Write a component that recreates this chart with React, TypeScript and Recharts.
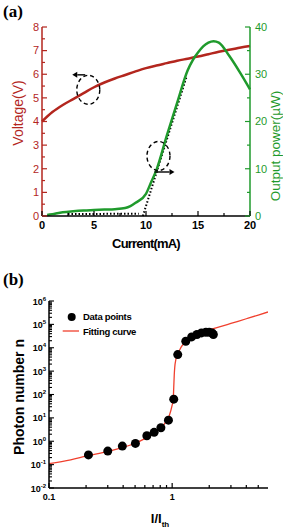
import React from "react";
import { ComposedChart, Line, Scatter, XAxis, YAxis, ReferenceDot } from "recharts";

const FONT = "'Liberation Sans', Arial, sans-serif";
const RED = "#b3261e";
const GREEN = "#1f9a2c";

// (a) voltage / output power vs current
const currentV = [0, 1, 2, 3, 4, 5, 6, 7, 8, 9, 10, 11, 12, 13, 14, 15, 16, 17, 18, 19, 20];
const voltage = [4.0, 4.4, 4.7, 4.95, 5.2, 5.45, 5.65, 5.82, 5.97, 6.12, 6.26, 6.37, 6.47, 6.57, 6.66, 6.75, 6.85, 6.95, 7.04, 7.12, 7.2];
const currentP = [0.5, 1, 2, 3, 4, 5, 6, 7, 8, 8.5, 9, 10, 10.5, 11, 12, 13, 14, 14.5, 15, 15.5, 16, 16.5, 17, 18, 19, 20];
const power = [0.2, 0.4, 0.8, 1.0, 1.15, 1.25, 1.35, 1.45, 1.7, 2.1, 2.8, 4.7, 7.2, 9.7, 17, 24, 30.8, 33, 34.6, 35.9, 36.7, 37, 36.7, 33.9, 30.5, 26.8];
const subFitI = [2.5, 9.3];
const subFitP = [0.4, 0.5];
const lasFitI = [9.7, 13.9];
const lasFitP = [0, 29.5];
const currentTicks = [0, 2.5, 5, 7.5, 10, 12.5, 15, 17.5, 20];
const currentMajor = [0, 5, 10, 15, 20];
const voltTicks = [0, 0.5, 1, 1.5, 2, 2.5, 3, 3.5, 4, 4.5, 5, 5.5, 6, 6.5, 7, 7.5, 8];
const voltMajor = [0, 1, 2, 3, 4, 5, 6, 7, 8];
const powerTicks = [0, 5, 10, 15, 20, 25, 30, 35, 40];
const powerMajor = [0, 10, 20, 30, 40];

// (b) photon number vs I/Ith
const ratioPts = [0.209, 0.3, 0.394, 0.503, 0.623, 0.714, 0.81, 0.933, 1.03, 1.11, 1.29, 1.44, 1.59, 1.73, 1.88, 2.0, 2.11, 2.16];
const photonPts = [0.26, 0.38, 0.62, 0.81, 1.72, 2.4, 3.8, 8.0, 63, 5100, 19000, 29000, 37000, 43000, 46000, 46000, 43000, 37000];
const ratioFit = [0.1, 0.15, 0.2, 0.3, 0.4, 0.5, 0.6, 0.7, 0.8, 0.9, 0.95, 1.0, 1.02, 1.03, 1.04, 1.05, 1.07, 1.1, 1.15, 1.2, 1.3, 1.5, 1.75, 2, 2.5, 3, 4, 5, 6];
const photonFit = [0.11, 0.16, 0.23, 0.37, 0.55, 0.82, 1.3, 2.1, 3.6, 7.5, 13, 35, 60, 200, 700, 1500, 3000, 5000, 8000, 12000, 18000, 30000, 43000, 58000, 82000, 110000, 174000, 250000, 340000];
const ratioTicks = [0.1, 0.2, 0.3, 0.4, 0.5, 0.6, 0.7, 0.8, 0.9, 1, 2, 3, 4, 5];
const ratioMajor = [0.1, 1];
const photonMajor = [-2, -1, 0, 1, 2, 3, 4, 5, 6];

const photonTicks: number[] = [];
photonMajor.forEach((e) => {
    for (let m = 1; m <= 9; m++) {
        if (e === 6 && m > 1) break;
        photonTicks.push(Number((m * Math.pow(10, e)).toPrecision(3)));
    }
});

const voltageData = currentV.map((c, i) => ({ i: c, v: voltage[i] }));
const powerData = currentP.map((c, i) => ({ i: c, p: power[i] }));
const subFitData = subFitI.map((c, i) => ({ i: c, p: subFitP[i] }));
const lasFitData = lasFitI.map((c, i) => ({ i: c, p: lasFitP[i] }));
const pointsData = ratioPts.map((r, i) => ({ r, n: photonPts[i] }));
const fitData = ratioFit.map((r, i) => ({ r, n: photonFit[i] }));

const isMajorLog = (v: number) => photonMajor.some((e) => Math.abs(v - Math.pow(10, e)) < Math.pow(10, e) * 1e-6);

// eslint-disable-next-line @typescript-eslint/no-explicit-any
const bottomTick = (majors: number[], size: number, bold: boolean, dyText: number) => (props: any) => {
    const { x, y, payload } = props;
    const major = majors.includes(payload.value);
    return (
        <g>
            <line x1={x} x2={x} y1={y} y2={y - (major ? 5 : 3)} stroke="#000" strokeWidth={1.2} />
            {major && (
                <text x={x} y={y + dyText} textAnchor="middle" fontSize={size} fontWeight={bold ? "bold" : "normal"} fill="#000" fontFamily={FONT}>
                    {payload.value}
                </text>
            )}
        </g>
    );
};

// eslint-disable-next-line @typescript-eslint/no-explicit-any
const sideTick = (majors: number[], color: string, side: "left" | "right") => (props: any) => {
    const { x, y, payload } = props;
    const major = majors.includes(payload.value);
    const dir = side === "left" ? 1 : -1;
    const gap = side === "left" ? 3 : 5;
    return (
        <g>
            <line x1={x} x2={x + dir * (major ? 5 : 3)} y1={y} y2={y} stroke={color} strokeWidth={1.2} />
            {major && (
                <text x={x - dir * gap} y={y} dy="0.35em" textAnchor={side === "left" ? "end" : "start"} fontSize={11} fill={color} fontFamily={FONT}>
                    {payload.value}
                </text>
            )}
        </g>
    );
};

// eslint-disable-next-line @typescript-eslint/no-explicit-any
const logYTick = (props: any) => {
    const { x, y, payload } = props;
    const major = isMajorLog(payload.value);
    const exp = Math.round(Math.log10(payload.value));
    return (
        <g>
            <line x1={x} x2={x + (major ? 5 : 3)} y1={y} y2={y} stroke="#000" strokeWidth={1.1} />
            {major && (
                <text x={x - 3} y={y} dy="0.4em" textAnchor="end" fontSize={9} fontWeight="bold" fill="#000" fontFamily={FONT}>
                    10<tspan dy={-4} fontSize={6}>{exp}</tspan>
                </text>
            )}
        </g>
    );
};

// eslint-disable-next-line @typescript-eslint/no-explicit-any
const loopArrow = (dir: "left" | "right") => (props: any) => {
    const { cx, cy } = props;
    const ay = dir === "left" ? cy - 15 : cy + 16;
    const x1 = dir === "left" ? cx - 3 : cx - 4;
    const x2 = dir === "left" ? cx - 16 : cx + 16;
    const h = dir === "left" ? 5 : -5;
    return (
        <g>
            <ellipse cx={cx} cy={cy} rx={11.5} ry={14.5} fill="none" stroke="#000" strokeWidth={1.4} strokeDasharray="4 3" />
            <line x1={x1} x2={x2 + h} y1={ay} y2={ay} stroke="#000" strokeWidth={1.4} />
            <polygon points={`${x2},${ay} ${x2 + h},${ay - 3} ${x2 + h},${ay + 3}`} fill="#000" />
        </g>
    );
};

function LivChart() {
    return (
        <ComposedChart width={283} height={260} margin={{ top: 27, right: 0, bottom: 10, left: 0 }}>
            <XAxis
                type="number"
                dataKey="i"
                domain={[0, 20]}
                ticks={currentTicks}
                interval={0}
                height={34}
                tickLine={false}
                tickSize={0}
                tickMargin={0}
                axisLine={{ stroke: "#000", strokeWidth: 1.5 }}
                tick={bottomTick(currentMajor, 11, true, 13)}
                // eslint-disable-next-line @typescript-eslint/no-explicit-any
                label={(p: any) => (
                    <text x={p.viewBox.x + p.viewBox.width / 2} y={p.viewBox.y + 32} textAnchor="middle" fontSize={13} fontWeight="bold" letterSpacing={-0.8} fill="#000" fontFamily={FONT}>
                        Current(mA)
                    </text>
                )}
            />
            <XAxis xAxisId="top" orientation="top" type="number" domain={[0, 20]} height={0} tick={false} tickLine={false} axisLine={{ stroke: "#000", strokeWidth: 1.5 }} />
            <YAxis
                yAxisId="v"
                type="number"
                domain={[0, 8]}
                ticks={voltTicks}
                interval={0}
                width={42}
                tickLine={false}
                tickSize={0}
                tickMargin={0}
                axisLine={{ stroke: RED, strokeWidth: 1.5 }}
                tick={sideTick(voltMajor, RED, "left")}
                // eslint-disable-next-line @typescript-eslint/no-explicit-any
                label={(p: any) => (
                    <text x={p.viewBox.x + 18} y={p.viewBox.y + 86} transform={`rotate(-90 ${p.viewBox.x + 18} ${p.viewBox.y + 86})`} textAnchor="middle" dominantBaseline="central" fontSize={14} fill={RED} fontFamily={FONT}>
                        Voltage(V)
                    </text>
                )}
            />
            <YAxis
                yAxisId="p"
                orientation="right"
                type="number"
                domain={[0, 40]}
                ticks={powerTicks}
                interval={0}
                width={33}
                tickLine={false}
                tickSize={0}
                tickMargin={0}
                axisLine={{ stroke: GREEN, strokeWidth: 1.5 }}
                tick={sideTick(powerMajor, GREEN, "right")}
                // eslint-disable-next-line @typescript-eslint/no-explicit-any
                label={(p: any) => (
                    <text x={p.viewBox.x + 25.5} y={p.viewBox.y + 119} transform={`rotate(-90 ${p.viewBox.x + 25.5} ${p.viewBox.y + 119})`} textAnchor="middle" dominantBaseline="central" fontSize={13.5} fill={GREEN} fontFamily={FONT}>
                        Output power(µW)
                    </text>
                )}
            />
            <Line yAxisId="p" data={subFitData} dataKey="p" type="linear" stroke="#000" strokeWidth={2} strokeDasharray="1.5 2" dot={false} isAnimationActive={false} />
            <Line yAxisId="p" data={lasFitData} dataKey="p" type="linear" stroke="#000" strokeWidth={2} strokeDasharray="1.5 2" dot={false} isAnimationActive={false} />
            <Line yAxisId="v" data={voltageData} dataKey="v" type="monotone" stroke={RED} strokeWidth={2.5} dot={false} isAnimationActive={false} />
            <Line yAxisId="p" data={powerData} dataKey="p" type="monotone" stroke={GREEN} strokeWidth={2.5} dot={false} isAnimationActive={false} />
            <ReferenceDot yAxisId="v" x={4.45} y={5.34} shape={loopArrow("left")} />
            <ReferenceDot yAxisId="v" x={11.2} y={2.54} shape={loopArrow("right")} />
        </ComposedChart>
    );
}

function PhotonChart() {
    return (
        <ComposedChart width={283} height={267} margin={{ top: 39, right: 15, bottom: 16, left: 0 }}>
            <XAxis
                type="number"
                dataKey="r"
                scale="log"
                domain={[0.1, 6]}
                allowDataOverflow
                ticks={ratioTicks}
                interval={0}
                height={25}
                tickLine={false}
                tickSize={0}
                tickMargin={0}
                axisLine={{ stroke: "#000", strokeWidth: 1.5 }}
                tick={bottomTick(ratioMajor, 9, true, 12)}
                // eslint-disable-next-line @typescript-eslint/no-explicit-any
                label={(p: any) => (
                    <text x={p.viewBox.x + 111} y={p.viewBox.y + 35} textAnchor="middle" fontSize={13} fontWeight="bold" fill="#000" fontFamily={FONT}>
                        I/I<tspan dy={4} fontSize={8}>th</tspan>
                    </text>
                )}
            />
            <XAxis xAxisId="top" orientation="top" type="number" scale="log" domain={[0.1, 6]} allowDataOverflow height={0} tick={false} tickLine={false} axisLine={{ stroke: "#000", strokeWidth: 1.5 }} />
            <YAxis
                type="number"
                scale="log"
                domain={[0.01, 1000000]}
                allowDataOverflow
                ticks={photonTicks}
                interval={0}
                width={49}
                tickLine={false}
                tickSize={0}
                tickMargin={0}
                axisLine={{ stroke: "#000", strokeWidth: 1.5 }}
                tick={logYTick}
                // eslint-disable-next-line @typescript-eslint/no-explicit-any
                label={(p: any) => (
                    <text x={p.viewBox.x + 19} y={p.viewBox.y + 96} transform={`rotate(-90 ${p.viewBox.x + 19} ${p.viewBox.y + 96})`} textAnchor="middle" dominantBaseline="central" fontSize={14} fontWeight="bold" fill="#000" fontFamily={FONT}>
                        Photon number n
                    </text>
                )}
            />
            <YAxis yAxisId="r" orientation="right" type="number" scale="log" domain={[0.01, 1000000]} allowDataOverflow width={0} tick={false} tickLine={false} axisLine={{ stroke: "#000", strokeWidth: 1.5 }} />
            <Line data={fitData} dataKey="n" type="monotone" stroke="#f0402e" strokeWidth={1.3} dot={false} isAnimationActive={false} />
            <Scatter
                data={pointsData}
                dataKey="n"
                fill="#000"
                isAnimationActive={false}
                // eslint-disable-next-line @typescript-eslint/no-explicit-any
                shape={(p: any) => <circle cx={p.cx} cy={p.cy} r={4.5} fill="#000" />}
            />
        </ComposedChart>
    );
}

export default function App() {
    return (
        <div style={{ position: "absolute", left: 0, top: 0, width: 283, height: 529, background: "#fff", fontFamily: FONT }}>
            <div style={{ position: "absolute", left: 0, top: 0 }}>
                <LivChart />
            </div>
            <div style={{ position: "absolute", left: 3, top: 3, fontFamily: "'Liberation Serif', serif", fontWeight: "bold", fontSize: 17, lineHeight: "17px" }}>(a)</div>
            <div style={{ position: "absolute", left: 0, top: 262 }}>
                <PhotonChart />
                <div style={{ position: "absolute", left: 62, top: 48, display: "flex", alignItems: "center", height: 13 }}>
                    <svg width={20} height={10}><circle cx={9.7} cy={5} r={4} fill="#000" /></svg>
                    <span style={{ fontSize: 9.5, fontWeight: "bold", marginLeft: 1, letterSpacing: -0.3 }}>Data points</span>
                </div>
                <div style={{ position: "absolute", left: 62, top: 62.5, display: "flex", alignItems: "center", height: 13 }}>
                    <svg width={20} height={10}><line x1={0.7} x2={17} y1={5} y2={5} stroke="#f0402e" strokeWidth={1.3} /></svg>
                    <span style={{ fontSize: 9.5, fontWeight: "bold", marginLeft: 1, letterSpacing: -0.3 }}>Fitting curve</span>
                </div>
            </div>
            <div style={{ position: "absolute", left: 3, top: 271, fontFamily: "'Liberation Serif', serif", fontWeight: "bold", fontSize: 17, lineHeight: "17px" }}>(b)</div>
        </div>
    );
}
